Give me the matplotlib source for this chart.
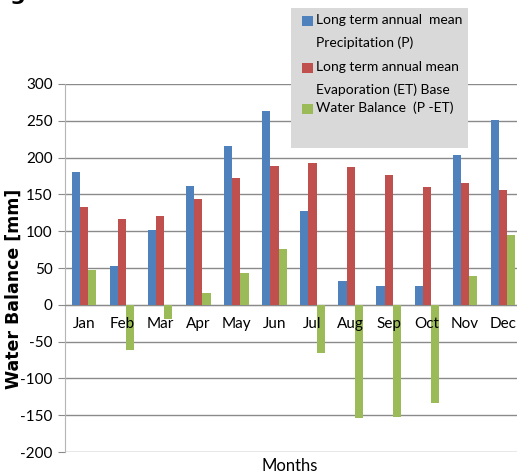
import matplotlib
matplotlib.use("Agg")
import matplotlib.pyplot as plt
import numpy as np
from matplotlib.patches import Rectangle

months = ["Jan", "Feb", "Mar", "Apr", "May", "Jun",
          "Jul", "Aug", "Sep", "Oct", "Nov", "Dec"]
precip = [180, 53, 101, 161, 216, 263, 127, 32, 26, 26, 204, 251]
evap = [133, 116, 121, 144, 172, 188, 192, 187, 177, 160, 166, 156]
balance = [47, -62, -19, 16, 43, 76, -66, -154, -152, -134, 39, 95]
y_ticks = [300, 250, 200, 150, 100, 50, 0, -50, -100, -150, -200]

legend_lines = [("Long term annual  mean", 0), ("Precipitation (P)", None),
                ("Long term annual mean", 1), ("Evaporation (ET) Base", None),
                ("Water Balance  (P -ET)", 2)]
colors = ["#4F81BD", "#C0504D", "#9BBB59"]

FONT = ["Lato", "DejaVu Sans"]
W, H = 517, 476


def fx(px):
    return px / W


def fy(py):
    return 1 - py / H


fig = plt.figure(figsize=(W / 100, H / 100), dpi=100)
ax = fig.add_axes([fx(65), 24 / H, 457 / W, 368 / H])

x = np.arange(len(months))
w = 0.215
for k, (vals, col) in enumerate(zip([precip, evap, balance], colors)):
    ax.bar(x + (k - 1) * w, vals, width=w, color=col, zorder=3)

ax.set_xlim(-0.5, 11.5)
ax.set_ylim(-200, 300)
ax.set_yticks(y_ticks)
ax.set_yticklabels([str(v) for v in y_ticks], family=FONT, fontsize=11)
ax.yaxis.grid(True, color="#8a8a8a", linewidth=1.0)
ax.set_axisbelow(True)

ax.set_xticks([])
ax.spines["bottom"].set_position(("data", 0))
ax.spines["bottom"].set_color("#8a8a8a")
ax.spines["top"].set_visible(False)
ax.spines["right"].set_visible(False)
ax.spines["left"].set_color("#b5b5b5")
ax.tick_params(axis="y", length=5, color="#8a8a8a", pad=4)

# month names sit just under the zero line, above the bars
for i, m in enumerate(months):
    ax.annotate(m, xy=(i, 0), xytext=(0, -9), textcoords="offset points",
                ha="center", va="top", family=FONT, fontsize=11, zorder=5)

fig.text(fx(14), fy(289), "Water Balance [mm]", rotation=90,
         fontweight="bold", fontsize=12.5, ha="center", va="center")
fig.text(fx(290), fy(466), "Months", family=FONT, fontsize=12,
         ha="center", va="center")

# legend box
fig.patches.append(Rectangle((fx(291), fy(148)), (468 - 291) / W, 140 / H,
                             transform=fig.transFigure, facecolor="#d9d9d9",
                             edgecolor="none", zorder=5))
line_y = [20, 43, 67, 90, 108]
for (txt, ci), ly in zip(legend_lines, line_y):
    fig.text(fx(316), fy(ly), txt, family=FONT, fontsize=10,
             ha="left", va="center", zorder=6)
    if ci is not None:
        fig.patches.append(Rectangle((fx(302), fy(ly + 6)), 11 / W, 10 / H,
                                     transform=fig.transFigure,
                                     facecolor=colors[ci], edgecolor="none",
                                     zorder=6))

fig.text(fx(10), 1.0, "g", fontsize=16, fontweight="bold", va="baseline")

fig.savefig("out.png", dpi=100)
